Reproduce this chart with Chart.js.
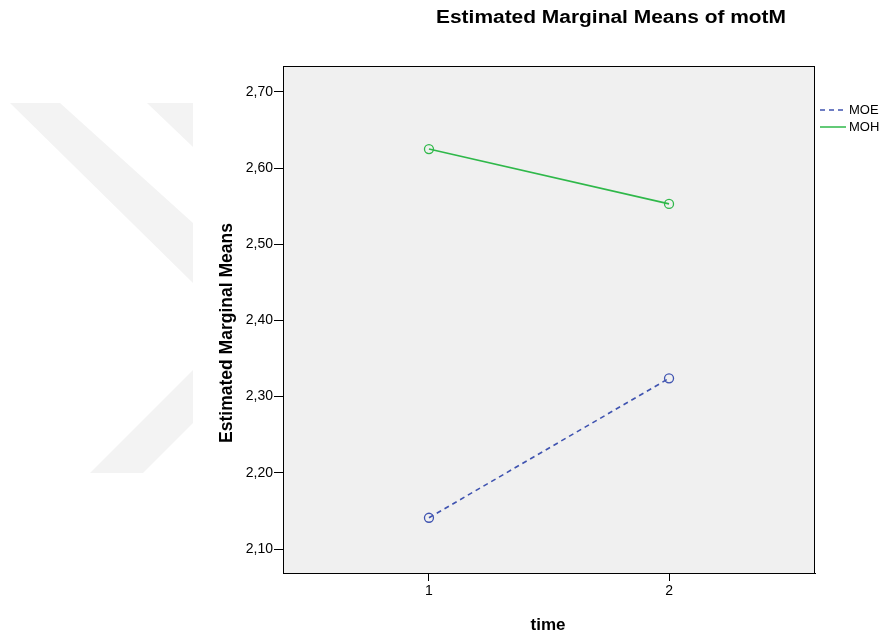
<!DOCTYPE html>
<html lang="en">
	<head>
		<meta charset="UTF-8" />
		<title>Estimated Marginal Means of motM</title>
		<script src="https://cdn.jsdelivr.net/npm/chart.js@4.4.0/dist/chart.umd.min.js"></script>
		<style>
			html, body { margin: 0; padding: 0; background: #ffffff; }
			#wrap { position: relative; width: 881px; height: 639px; }
		</style>
	</head>
	<body>
		<div id="wrap"><canvas id="emm-chart" width="881" height="639"></canvas></div>
		<script>
			// Data
			const timePoints = [1, 2]
			const moeMeans = [2.141, 2.324]
			const mohMeans = [2.625, 2.553]
			const seriesNames = ['MOE', 'MOH']
			const yTicks = [2.1, 2.2, 2.3, 2.4, 2.5, 2.6, 2.7]
			const xTicks = [1, 2]

			const FONT = 'Arial, "Liberation Sans", sans-serif'
			const blue = '#3f53b0'
			const green = '#2fb84a'

			// draw text stretched to a given width (SPSS titles come out wide)
			function wideText(ctx, text, x, y, width) {
				const w = ctx.measureText(text).width
				ctx.save()
				ctx.translate(x, y)
				ctx.scale(width / w, 1)
				ctx.fillText(text, 0, 0)
				ctx.restore()
			}

			// faint watermark + grey plot background
			const backdrop = {
				id: 'backdrop',
				beforeDraw(chart) {
					const ctx = chart.ctx
					const a = chart.chartArea
					ctx.save()
					ctx.fillStyle = '#f3f3f3'
					const shapes = [
						[[10, 103], [60, 103], [193, 223], [193, 283]],
						[[147, 103], [193, 103], [193, 147]],
						[[90, 473], [143, 473], [193, 423], [193, 370]],
					]
					shapes.forEach(pts => {
						ctx.beginPath()
						pts.forEach((p, i) => (i ? ctx.lineTo(p[0], p[1]) : ctx.moveTo(p[0], p[1])))
						ctx.closePath()
						ctx.fill()
					})
					ctx.fillStyle = '#f0f0f0'
					ctx.fillRect(a.left, a.top, a.right - a.left, a.bottom - a.top)
					ctx.restore()
				},
				afterDraw(chart) {
					const ctx = chart.ctx
					const a = chart.chartArea
					ctx.save()
					// frame
					ctx.strokeStyle = '#000'
					ctx.lineWidth = 1
					ctx.strokeRect(a.left + 0.5, a.top + 0.5, a.right - a.left - 1, a.bottom - a.top)

					// titles
					ctx.fillStyle = '#000'
					ctx.textAlign = 'center'
					ctx.textBaseline = 'middle'
					ctx.font = 'bold 18px ' + FONT
					wideText(ctx, 'Estimated Marginal Means of motM', 611, 18, 350)
					ctx.font = 'bold 17px ' + FONT
					ctx.fillText('time', 548, 625)
					ctx.save()
					ctx.translate(227, 333)
					ctx.rotate(-Math.PI / 2)
					ctx.font = 'bold 17.5px ' + FONT
					ctx.fillText('Estimated Marginal Means', 0, 0)
					ctx.restore()

					// legend
					ctx.font = '13px ' + FONT
					ctx.textAlign = 'left'
					chart.data.datasets.forEach((ds, i) => {
						const y = 110 + i * 17
						ctx.strokeStyle = ds.borderColor
						ctx.lineWidth = 1.5
						ctx.setLineDash(ds.borderDash || [])
						ctx.beginPath()
						ctx.moveTo(820, y)
						ctx.lineTo(846, y)
						ctx.stroke()
						ctx.setLineDash([])
						ctx.fillStyle = '#000'
						ctx.fillText(ds.label, 849, y)
					})
					ctx.restore()
				},
			}

			const fmt = v => v.toFixed(2).replace('.', ',')

			new Chart(document.getElementById('emm-chart'), {
				type: 'line',
				data: {
					datasets: [
						{
							label: seriesNames[0],
							data: timePoints.map((t, i) => ({ x: t, y: moeMeans[i] })),
							borderColor: blue,
							borderWidth: 1.6,
							borderDash: [5, 4],
							pointRadius: 4.5,
							pointBorderWidth: 1.3,
							pointBackgroundColor: 'rgba(0,0,0,0)',
							pointBorderColor: blue,
						},
						{
							label: seriesNames[1],
							data: timePoints.map((t, i) => ({ x: t, y: mohMeans[i] })),
							borderColor: green,
							borderWidth: 1.6,
							pointRadius: 4.5,
							pointBorderWidth: 1.3,
							pointBackgroundColor: 'rgba(0,0,0,0)',
							pointBorderColor: green,
						},
					],
				},
				options: {
					responsive: false,
					animation: false,
					layout: { padding: { top: 66, right: 66, bottom: 0, left: 0 } },
					plugins: { legend: { display: false }, tooltip: { enabled: false } },
					scales: {
						x: {
							type: 'linear',
							min: 0.392,
							max: 2.608,
							afterBuildTicks: s => { s.ticks = xTicks.map(v => ({ value: v })) },
							afterFit: s => { s.height = 639 - 573 },
							grid: { drawOnChartArea: false, drawTicks: true, tickLength: 8, color: '#000' },
							border: { display: true, color: '#000' },
							ticks: { color: '#000', font: { family: FONT, size: 14 }, padding: 2, callback: v => String(v) },
						},
						y: {
							type: 'linear',
							min: 2.0685,
							max: 2.734,
							afterBuildTicks: s => { s.ticks = yTicks.map(v => ({ value: v })) },
							afterFit: s => { s.width = 283 },
							grid: { drawOnChartArea: false, drawTicks: true, tickLength: 9, color: '#000' },
							border: { display: true, color: '#000' },
							ticks: { color: '#000', font: { family: FONT, size: 14 }, padding: 1, callback: v => fmt(v) },
						},
					},
				},
				plugins: [backdrop],
			})
		</script>
	</body>
</html>
